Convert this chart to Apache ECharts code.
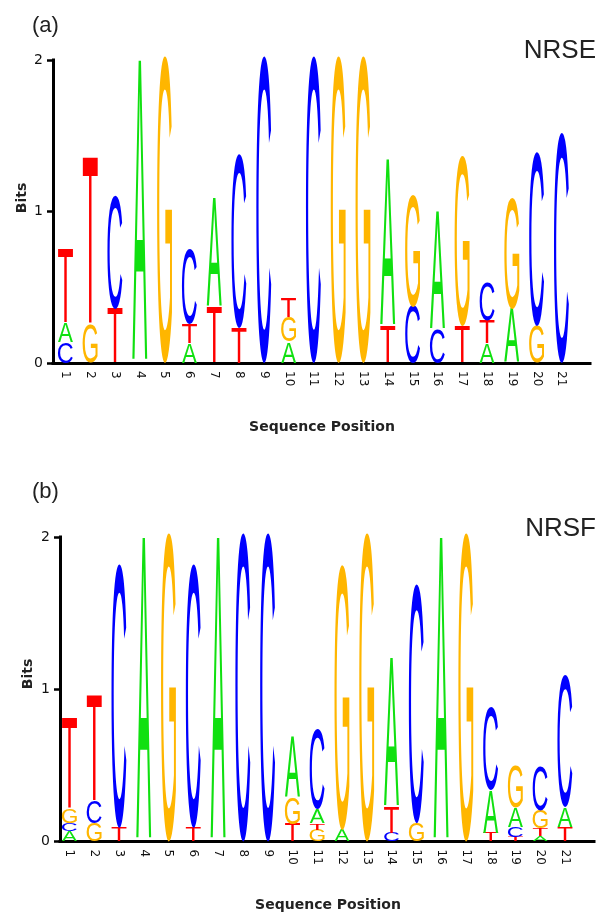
<!DOCTYPE html>
<html>
<head>
<meta charset="utf-8">
<script src="https://cdn.jsdelivr.net/npm/echarts@6/dist/echarts.min.js"></script>
<style>
  html, body { margin: 0; padding: 0; background: #ffffff; }
  #chart { width: 599px; height: 916px; }
</style>
</head>
<body>
<div id="chart"></div>
<script>
// Sequence positions along the binding site
const positions = [1, 2, 3, 4, 5, 6, 7, 8, 9, 10, 11, 12, 13, 14, 15, 16, 17, 18, 19, 20, 21];
const bitTicks = [0, 1, 2];

// NRSE: information (bits) carried by each base at each position
const nrseA = [0.125, 0, 0, 2.0, 0, 0.13, 0.72, 0, 0, 0.14, 0, 0, 0, 1.11, 0, 0.78, 0, 0.13, 0.36, 0, 0];
const nrseC = [0.14, 0, 0.74, 0, 0, 0.49, 0, 1.13, 2.0, 0, 2.0, 0, 0, 0, 0.375, 0.22, 0, 0.25, 0, 1.13, 1.5];
const nrseG = [0, 0.25, 0, 0, 2.0, 0, 0, 0, 0, 0.16, 0, 2.0, 2.0, 0, 0.73, 0, 1.11, 0, 0.72, 0.24, 0];
const nrseT = [0.49, 1.11, 0.36, 0, 0, 0.13, 0.37, 0.23, 0, 0.13, 0, 0, 0, 0.24, 0, 0, 0.24, 0.15, 0, 0, 0];
// stacking order of the letters, bottom to top
const nrseOrder = ['CAT', 'GT', 'TC', 'A', 'G', 'ATC', 'TA', 'TC', 'C', 'AGT', 'C', 'G', 'G', 'TA', 'CG', 'CA', 'TG', 'ATC', 'AG', 'GC', 'C'];

// NRSF
const nrsfA = [0.07, 0, 0, 2.0, 0, 0, 2.0, 0, 0, 0.40, 0.09, 0.075, 0, 0.985, 0, 2.0, 0, 0.28, 0.125, 0.035, 0.13];
const nrsfC = [0.05, 0.14, 1.71, 0, 0, 1.71, 0, 2.0, 2.0, 0, 0.52, 0, 0, 0.055, 1.55, 0, 0, 0.54, 0.065, 0.29, 0.855];
const nrsfG = [0.09, 0.12, 0, 0, 2.0, 0, 0, 0, 0, 0.17, 0.075, 1.72, 2.0, 0, 0.12, 0, 2.0, 0, 0.27, 0.12, 0];
const nrsfT = [0.60, 0.70, 0.09, 0, 0, 0.09, 0, 0, 0, 0.115, 0.045, 0, 0, 0.17, 0, 0, 0, 0.055, 0.03, 0.05, 0.095];
const nrsfOrder = ['ACGT', 'GCT', 'TC', 'A', 'G', 'TC', 'A', 'C', 'C', 'TGA', 'GTAC', 'AG', 'G', 'CTA', 'GC', 'A', 'G', 'TAC', 'TCAG', 'ATGC', 'TAC'];

const BASES = ['A', 'C', 'G', 'T'];
const BASE_COLORS = { A: '#10e010', C: '#0000ff', G: '#ffb600', T: '#ff0000' };
const GLYPH_FAMILY = '"Liberation Sans", Arial, sans-serif';
const GLYPH_SIZE = 100;
const GLYPH_WEIGHT = 'normal';
const GLYPH_WIDTH = 15;   // px width of every letter in a stack

// Glyph metrics, measured with the same font the canvas uses,
// so each letter can be stretched to exactly fill its share of the stack.
const metrics = (function () {
  const ctx = document.createElement('canvas').getContext('2d');
  ctx.font = GLYPH_WEIGHT + ' ' + GLYPH_SIZE + 'px ' + GLYPH_FAMILY;
  ctx.textAlign = 'center';
  ctx.textBaseline = 'middle';
  const out = {};
  BASES.forEach(function (b) {
    const m = ctx.measureText(b);
    out[b] = { left: m.actualBoundingBoxLeft, right: m.actualBoundingBoxRight };
  });
  // cap line and baseline come from a flat-topped letter
  const t = ctx.measureText('T');
  out.capAsc = t.actualBoundingBoxAscent;
  out.capDesc = t.actualBoundingBoxDescent;
  return out;
})();

function buildStacks(order, heights) {
  const rows = [];
  positions.forEach(function (p, i) {
    let y = 0;
    order[i].split('').forEach(function (b) {
      const h = heights[b][i];
      rows.push([p, y, y + h, BASES.indexOf(b)]);
      y += h;
    });
  });
  return rows;
}

const nrseStacks = buildStacks(nrseOrder, { A: nrseA, C: nrseC, G: nrseG, T: nrseT });
const nrsfStacks = buildStacks(nrsfOrder, { A: nrsfA, C: nrsfC, G: nrsfG, T: nrsfT });

function renderLetter(params, api) {
  const pos = api.value(0);
  const y0 = api.value(1);
  const y1 = api.value(2);
  const base = BASES[api.value(3)];
  const bottom = api.coord([pos, y0]);
  const top = api.coord([pos, y1]);
  const m = metrics[base];
  const sy = (bottom[1] - top[1]) / (metrics.capAsc + metrics.capDesc);
  const sx = GLYPH_WIDTH / (m.left + m.right);
  return {
    type: 'text',
    x: bottom[0] - sx * (m.right - m.left) / 2,
    y: top[1] + sy * metrics.capAsc,
    scaleX: sx,
    scaleY: sy,
    style: {
      text: base,
      fill: BASE_COLORS[base],
      fontSize: GLYPH_SIZE,
      fontFamily: GLYPH_FAMILY,
      fontWeight: GLYPH_WEIGHT,
      align: 'center',
      verticalAlign: 'middle'
    }
  };
}

const AXIS_COLOR = '#000000';
const TICK_FONT = 'DejaVu Sans';

function xAxisFor(gridIndex, min, max) {
  return {
    gridIndex: gridIndex,
    type: 'value',
    min: min,
    max: max,
    axisLine: { show: true, onZero: false, lineStyle: { color: AXIS_COLOR, width: 3, cap: 'square' } },
    axisTick: { show: false },
    splitLine: { show: false },
    axisLabel: {
      customValues: positions,
      rotate: -90,
      margin: 8,
      fontSize: 12,
      fontFamily: TICK_FONT,
      color: '#111111',
      formatter: function (v) { return String(v); }
    }
  };
}

function yAxisFor(gridIndex) {
  return {
    gridIndex: gridIndex,
    type: 'value',
    min: bitTicks[0],
    max: bitTicks[bitTicks.length - 1],
    interval: 1,
    axisLine: { show: true, lineStyle: { color: AXIS_COLOR, width: 3, cap: 'square' } },
    axisTick: { show: true, length: 6, lineStyle: { color: AXIS_COLOR, width: 2.5 } },
    splitLine: { show: false },
    axisLabel: {
      margin: 10,
      fontSize: 14,
      fontFamily: TICK_FONT,
      color: '#111111',
      verticalAlign: 'middle',
      padding: [0, 0, 8, 0]
    }
  };
}

const chart = echarts.init(document.getElementById('chart'), null, { renderer: 'canvas' });

const titleFont = '22px "Liberation Sans", Arial, sans-serif';
const nameFont = '26px "Liberation Sans", Arial, sans-serif';
const axisNameFont = 'bold 14px "DejaVu Sans", sans-serif';

function label(x, y, text, font, align, rotation) {
  return {
    type: 'text',
    x: x,
    y: y,
    rotation: rotation || 0,
    style: {
      text: text,
      font: font,
      fill: '#222222',
      align: align,
      textAlign: align,
      verticalAlign: 'middle',
      textVerticalAlign: 'middle'
    }
  };
}

chart.setOption({
  animation: false,
  backgroundColor: '#ffffff',
  grid: [
    { left: 53, top: 60, width: 537, height: 303 },
    { left: 60, top: 537, width: 534, height: 304.5 }
  ],
  xAxis: [xAxisFor(0, 0.5, 22.15), xAxisFor(1, 0.62, 22.17)],
  yAxis: [yAxisFor(0), yAxisFor(1)],
  series: [
    {
      name: 'NRSE',
      type: 'custom',
      xAxisIndex: 0,
      yAxisIndex: 0,
      silent: true,
      clip: false,
      renderItem: renderLetter,
      encode: { x: 0, y: [1, 2] },
      data: nrseStacks,
      z: 5
    },
    {
      name: 'NRSF',
      type: 'custom',
      xAxisIndex: 1,
      yAxisIndex: 1,
      silent: true,
      clip: false,
      renderItem: renderLetter,
      encode: { x: 0, y: [1, 2] },
      data: nrsfStacks,
      z: 5
    }
  ],
  graphic: [
    label(32, 26, '(a)', titleFont, 'left'),
    label(596, 51, 'NRSE', nameFont, 'right'),
    label(22, 198, 'Bits', axisNameFont, 'center', Math.PI / 2),
    label(322, 427, 'Sequence Position', axisNameFont, 'center'),
    label(32, 492, '(b)', titleFont, 'left'),
    label(596, 529, 'NRSF', nameFont, 'right'),
    label(28, 674, 'Bits', axisNameFont, 'center', Math.PI / 2),
    label(328, 905, 'Sequence Position', axisNameFont, 'center')
  ]
});
</script>
</body>
</html>
